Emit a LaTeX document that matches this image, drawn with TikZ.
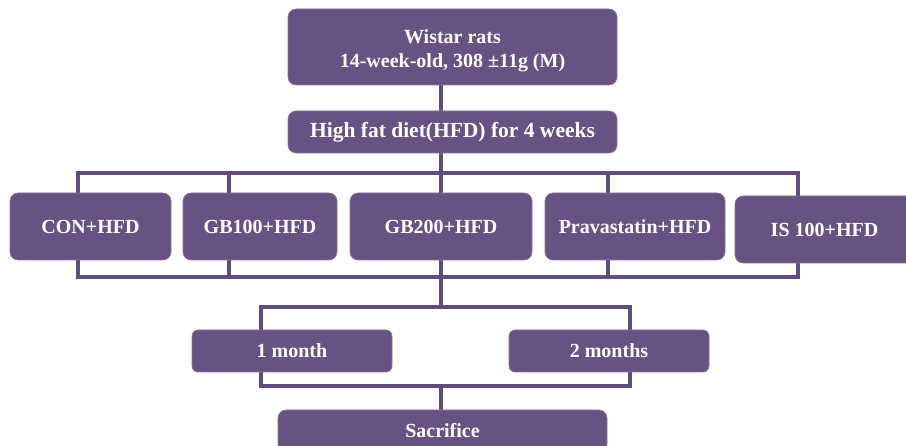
\documentclass[tikz,border=0pt]{standalone}
\usepackage{fontspec}
\setmainfont{Liberation Serif}
\usetikzlibrary{backgrounds}
\definecolor{boxfill}{RGB}{104,82,132}
\definecolor{linec}{RGB}{96,76,124}
\begin{document}
\begin{tikzpicture}[x=1pt,y=-1pt,
  box/.style={fill=boxfill, draw=boxfill!80!white, line width=0.6pt, rounded corners=8pt,
    text=white, font=\bfseries\fontsize{20}{24}\selectfont, inner sep=0pt, align=center},
  boxtext/.style={text=white, font=\bfseries\fontsize{20}{24}\selectfont, inner sep=0pt, align=center},
  smallbox/.style={box, rounded corners=6pt},
  conn/.style={draw=linec, line width=3.2pt}]
\useasboundingbox (0,0) rectangle (906,446);

% boxes
\node[box, minimum width=329pt, minimum height=76pt] (rats) at (452.5,47) {};
\node[boxtext] (ratstext) at (452.5,51) {Wistar rats\\14-week-old, 308 ±11g (M)};
\node[box, minimum width=329pt, minimum height=42pt, font=\bfseries\fontsize{21.5}{24}\selectfont] (hfd) at (452.5,132) {High fat diet(HFD) for 4 weeks};

\node[box, minimum width=161pt, minimum height=67pt] (con) at (90.5,226.5) {CON+HFD};
\node[box, minimum width=154pt, minimum height=67pt] (gb100) at (260,226.5) {GB100+HFD};
\node[box, minimum width=182pt, minimum height=67pt] (gb200) at (441,226.5) {GB200+HFD};
\node[box, minimum width=180pt, minimum height=67pt] (prav) at (635,226.5) {Pravastatin+HFD};
\node[box, minimum width=179pt, minimum height=67pt] (is) at (824.5,229.5) {IS 100+HFD};

\node[smallbox, minimum width=200pt, minimum height=42pt] (m1) at (292,351) {1 month};
\node[smallbox, minimum width=200pt, minimum height=42pt] (m2) at (609,351) {2 months};

\node[box, minimum width=329pt, minimum height=42pt] (sac) at (442.5,431) {Sacrifice};

% bracket coordinates
\coordinate (sx) at (441,0);
\coordinate (atl) at (78,173);
\coordinate (abr) at (798,277);
\coordinate (ag1t) at (229,173);
\coordinate (ag1b) at (229,277);
\coordinate (ag2t) at (608,173);
\coordinate (ag2b) at (608,277);
\coordinate (btl) at (261,307);
\coordinate (bbr) at (630,386);

\begin{scope}[on background layer]
  \draw[conn] (rats.south -| sx) -- (sx |- btl);
  \draw[conn] (sx |- bbr) -- (sac.north -| sx);
  \draw[conn] (atl) rectangle (abr);
  \draw[conn] (ag1t) -- (ag1b);
  \draw[conn] (ag2t) -- (ag2b);
  \draw[conn] (btl) rectangle (bbr);
\end{scope}
\end{tikzpicture}
\end{document}
